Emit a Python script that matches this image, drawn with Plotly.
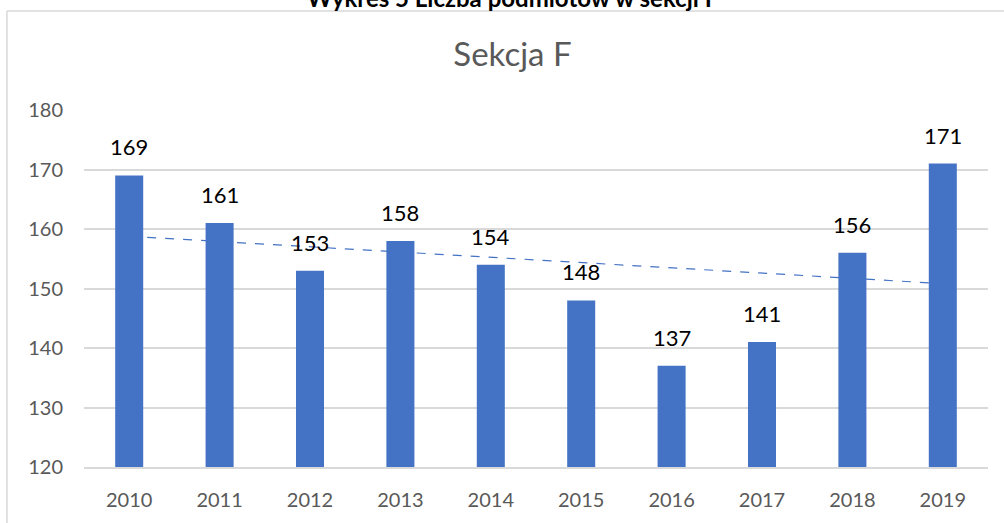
import numpy as np
import plotly.graph_objects as go

years = [2010, 2011, 2012, 2013, 2014, 2015, 2016, 2017, 2018, 2019]
values = [169, 161, 153, 158, 154, 148, 137, 141, 156, 171]
y_ticks = [120, 130, 140, 150, 160, 170, 180]
chart_title = "Sekcja F"
doc_caption = "Wykres 5 Liczba podmiotów w sekcji F"

BAR = "#4472C4"
GRID = "#D9D9D9"
TXT = "#595959"
FONT = "Lato, Calibri, Carlito, sans-serif"

# linear trend (least squares) computed from the data
xi = np.arange(len(values))
slope, intercept = np.polyfit(xi, values, 1)
trend_start = intercept
trend_end = intercept + slope * xi[-1]

fig = go.Figure()
fig.add_trace(go.Bar(
    x=years, y=values, marker=dict(color=BAR, line=dict(width=0)),
    hoverinfo="x+y", showlegend=False,
))

for yr, v in zip(years, values):
    fig.add_annotation(x=yr, y=v, xref="x", yref="y", text=str(v),
                       showarrow=False, yanchor="bottom", yshift=13,
                       font=dict(family=FONT, size=22, color="#000000"))

fig.add_shape(type="line", xref="x", yref="y",
              x0=years[0], y0=trend_start, x1=years[-1], y1=trend_end,
              line=dict(color=BAR, width=1.2, dash="dash"), layer="between")

# chart frame (left + top edge visible)
fig.add_shape(type="line", xref="paper", yref="paper",
              x0=-0.0852, x1=-0.0852, y0=1.277, y1=-0.2,
              line=dict(color=GRID, width=1.5), layer="below")
fig.add_shape(type="line", xref="paper", yref="paper",
              x0=-0.0852, x1=1.05, y0=1.277, y1=1.277,
              line=dict(color=GRID, width=1.5), layer="below")

fig.add_annotation(x=0.474, y=1.268, xref="paper", yref="paper",
                   text="<b>" + doc_caption + "</b>", showarrow=False,
                   yanchor="bottom", font=dict(family=FONT, size=24, color="#000000"))

fig.update_layout(
    width=1004, height=523,
    margin=dict(l=84, r=16, t=110, b=56),
    paper_bgcolor="white", plot_bgcolor="white",
    bargap=0.69,
    title=dict(text=chart_title, xref="paper", x=0.474, xanchor="center",
               yref="container", y=0.895, yanchor="middle",
               font=dict(family=FONT, size=33, color=TXT)),
    xaxis=dict(tickmode="array", tickvals=years, ticktext=[str(y) for y in years],
               range=[years[0] - 0.5, years[-1] + 0.5], showgrid=False,
               showline=True, linecolor=GRID, linewidth=1.5, ticks="",
               tickfont=dict(family=FONT, size=20, color=TXT), ticklabelstandoff=14,
               zeroline=False),
    yaxis=dict(range=[y_ticks[0], y_ticks[-1]], tickvals=y_ticks,
               showgrid=True, gridcolor=GRID, gridwidth=1.5, zeroline=False,
               showline=False, ticks="",
               tickfont=dict(family=FONT, size=20, color=TXT), ticklabelstandoff=20),
    font=dict(family=FONT),
)

fig.write_html("out.html", config={"displayModeBar": False},
               post_script="document.body.style.margin='0';")
